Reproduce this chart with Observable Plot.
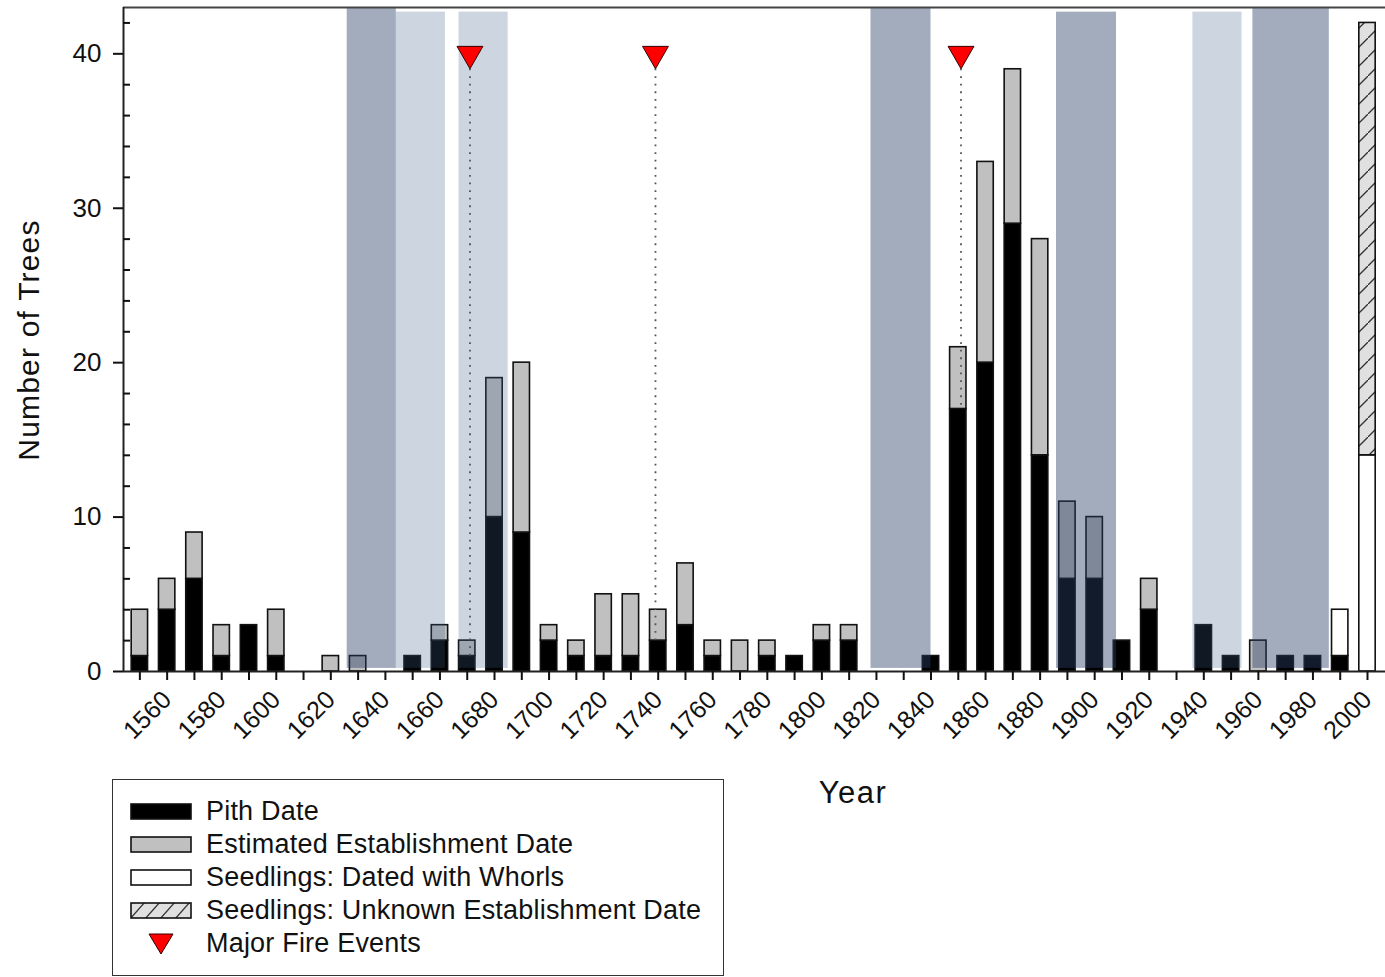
<!DOCTYPE html>
<html><head><meta charset="utf-8">
<script src="https://cdn.jsdelivr.net/npm/d3@7"></script>
<script src="https://cdn.jsdelivr.net/npm/@observablehq/plot@0.6"></script>
<style>
body{margin:0;background:#fff;font-family:"Liberation Sans",Arial,sans-serif;}
#wrap{position:relative;width:1385px;height:977px;overflow:hidden;background:#fff;}
#wrap > svg{position:absolute;left:0;top:0;}
#ylabel{position:absolute;left:29px;top:340px;transform:translate(-50%,-50%) rotate(-90deg);font-size:30px;letter-spacing:1.2px;white-space:nowrap;color:#111;}
#xlabel{position:absolute;left:753px;width:200px;top:775px;text-align:center;font-size:31px;letter-spacing:1.5px;color:#111;}
#legend{position:absolute;left:112px;top:779px;width:612px;height:197px;border:1.5px solid #333;box-sizing:border-box;background:#fff;}
#legend .row{position:absolute;left:0;height:33px;display:flex;align-items:center;font-size:27px;letter-spacing:0.2px;color:#111;white-space:nowrap;}
#legend .row svg{position:static;margin-left:17px;margin-right:14px;flex:none;}
</style></head><body>
<div id="wrap"></div>
<script>
// ---- data ----
const years = [1550,1560,1570,1580,1590,1600,1610,1620,1630,1640,1650,1660,1670,1680,1690,1700,1710,1720,1730,1740,1750,1760,1770,1780,1790,1800,1810,1820,1830,1840,1850,1860,1870,1880,1890,1900,1910,1920,1930,1940,1950,1960,1970,1980,1990,2000];
const pith      = [1,4,6,1,3,1,0,0,0,0,1,2,1,10,9,2,1,1,1,2,3,1,0,1,1,2,2,0,0,1,17,20,29,14,6,6,2,4,0,3,1,0,1,1,1,0];
const estimated = [3,2,3,2,0,3,0,1,1,0,0,1,1,9,11,1,1,4,4,2,4,1,2,1,0,1,1,0,0,0,4,13,10,14,5,4,0,2,0,0,0,2,0,0,0,0];
const whorls    = [0,0,0,0,0,0,0,0,0,0,0,0,0,0,0,0,0,0,0,0,0,0,0,0,0,0,0,0,0,0,0,0,0,0,0,0,0,0,0,0,0,0,0,0,3,14];
const unknown   = [0,0,0,0,0,0,0,0,0,0,0,0,0,0,0,0,0,0,0,0,0,0,0,0,0,0,0,0,0,0,0,0,0,0,0,0,0,0,0,0,0,0,0,0,0,28];

const bandStart = [1626,1644,1667,1818,1886,1936,1958];
const bandEnd   = [1644,1662,1685,1840,1908,1954,1986];
const bandTop   = [43,42.7,42.7,43,42.7,42.7,43];
const bandShade = ["dark","light","light","dark","dark","light","dark"];

const fireYears  = [1671,1739,1851];
const fireMarker = [40,40,40];
const fireLineTo = [1,2,17];

const yTicks = [0,10,20,30,40];
const yMinorTicks = [2,4,6,8,12,14,16,18,22,24,26,28,32,34,36,38,42];
const xTicks = d3.range(1550,2001,10);
const xLabels = d3.range(1560,2001,20);

const legendLabels = ["Pith Date","Estimated Establishment Date","Seedlings: Dated with Whorls","Seedlings: Unknown Establishment Date","Major Fire Events"];

// ---- derived tables ----
const half = 3;
const segs = [];
years.forEach((yr,i)=>{
  let base = 0;
  const add = (v,kind)=>{ if(v>0){ segs.push({year:yr,y1:base,y2:base+v,kind}); base+=v; } };
  add(pith[i],"pith"); add(estimated[i],"est"); add(whorls[i],"whorl"); add(unknown[i],"unknown");
});
const bands = bandStart.map((s,i)=>({x1:s,x2:bandEnd[i],top:bandTop[i],shade:bandShade[i]}));
const fires = fireYears.map((y,i)=>({year:y,marker:fireMarker[i],to:fireLineTo[i]}));

const xDomain = [1544,2006.6];
const yDomain = [0,43];
const segOf = k => segs.filter(d=>d.kind===k);
const rectOpts = (fill)=>({x1:d=>d.year-half,x2:d=>d.year+half,y1:"y1",y2:"y2",fill,stroke:"#111",strokeWidth:1.6});

const plot = Plot.plot({
  width:1385, height:977,
  marginLeft:123, marginRight:0, marginTop:7, marginBottom:306,
  style:{fontFamily:"'Liberation Sans', Arial, sans-serif", color:"#111", background:"transparent"},
  x:{domain:xDomain},
  y:{domain:yDomain},
  marks:[
    Plot.rect(segOf("pith"), rectOpts("#000")),
    Plot.rect(segOf("est"), rectOpts("#c0c0c0")),
    Plot.rect(segOf("whorl"), rectOpts("#fff")),
    Plot.rect(segOf("unknown"), rectOpts("url(#hatch)")),
    Plot.rect(bands.filter(d=>d.shade==="dark"), {x1:"x1",x2:"x2",y1:0.2,y2:"top",fill:"rgb(40,63,99)",fillOpacity:0.43}),
    Plot.rect(bands.filter(d=>d.shade==="light"), {x1:"x1",x2:"x2",y1:0.2,y2:"top",fill:"rgb(63,92,137)",fillOpacity:0.26}),
    Plot.ruleX(fires, {x:"year", y1:"marker", y2:"to", stroke:"#555", strokeWidth:1.8, strokeDasharray:"1.8,5.8"}),
    Plot.dot(fires, {x:"year", y:"marker", symbol:"triangle", rotate:180, r:9.6, fill:"#f00", stroke:"#300", strokeWidth:1}),
    Plot.ruleY([yDomain[0]], {stroke:"#222", strokeWidth:2}),
    Plot.ruleY([yDomain[1]], {stroke:"#444", strokeWidth:2}),
    Plot.ruleX([xDomain[0]], {stroke:"#222", strokeWidth:2}),
    Plot.axisY({ticks:yTicks, tickSize:10, tickPadding:12, fontSize:26, label:null, strokeWidth:2}),
    Plot.axisY({ticks:yMinorTicks, tickSize:-7, text:null, label:null, strokeWidth:2}),
    Plot.axisX({ticks:xTicks, tickSize:9, text:null, label:null, strokeWidth:2}),
    Plot.axisX({ticks:xLabels, tickSize:0, tickRotate:-45, tickPadding:24, fontSize:25, tickFormat:d=>String(d), label:null})
  ]
});

const defs = document.createElementNS("http://www.w3.org/2000/svg","defs");
defs.innerHTML = `<pattern id="hatch" patternUnits="userSpaceOnUse" width="19" height="19">
  <rect width="19" height="19" fill="#e0e0e0"/>
  <path d="M-2,21 L21,-2" stroke="#333" stroke-width="1.3"/>
</pattern>
<pattern id="hatch2" patternUnits="userSpaceOnUse" width="15" height="17">
  <rect width="15" height="17" fill="#e0e0e0"/>
  <path d="M0,17 L15,0" stroke="#333" stroke-width="1.3"/>
</pattern>`;
plot.insertBefore(defs, plot.firstChild);

const wrap = document.getElementById("wrap");
wrap.appendChild(plot);

const yl = document.createElement("div"); yl.id="ylabel"; yl.textContent="Number of Trees"; wrap.appendChild(yl);
const xl = document.createElement("div"); xl.id="xlabel"; xl.textContent="Year"; wrap.appendChild(xl);

const legend = document.createElement("div"); legend.id="legend";
const swatches = [
  `<rect x="1" y="1" width="60" height="15" fill="#000" stroke="#111" stroke-width="1.6"/>`,
  `<rect x="1" y="1" width="60" height="15" fill="#c0c0c0" stroke="#111" stroke-width="1.6"/>`,
  `<rect x="1" y="1" width="60" height="15" fill="#fff" stroke="#111" stroke-width="1.6"/>`,
  `<rect x="1" y="1" width="60" height="15" fill="url(#hatch2)" stroke="#111" stroke-width="1.6"/>`,
  `<path d="M19,1 L43,1 L31,21 Z" fill="#f00" stroke="#300" stroke-width="1"/>`
];
legendLabels.forEach((lab,i)=>{
  const r = document.createElement("div"); r.className="row";
  r.style.top = (15 + i*33) + "px";
  const h = i===4 ? 22 : 17;
  r.innerHTML = `<svg width="62" height="${h}" viewBox="0 0 62 ${h}">${swatches[i]}</svg><span>${lab}</span>`;
  legend.appendChild(r);
});
wrap.appendChild(legend);
</script>
</body></html>
